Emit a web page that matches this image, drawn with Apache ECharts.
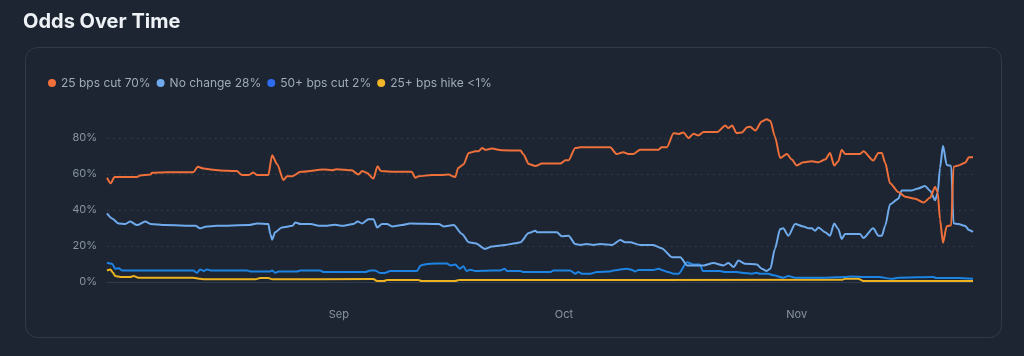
<!DOCTYPE html>
<html>
<head>
<meta charset="utf-8">
<script src="https://cdn.jsdelivr.net/npm/echarts@6/dist/echarts.min.js"></script>
<style>
  html, body { margin: 0; padding: 0; background: #1c2531; }
  #chart { width: 1024px; height: 356px; }
</style>
</head>
<body>
<div id="chart"></div>
<script>
// Time is given in days since 2025-08-01 (UTC); values are probabilities in %.
const startDate = Date.UTC(2025, 7, 1);
const seriesNames = ['25 bps cut 70%', 'No change 28%', '50+ bps cut 2%', '25+ bps hike <1%'];
const yTicks = [0, 20, 40, 60, 80];
const monthLabels = ['Jan','Feb','Mar','Apr','May','Jun','Jul','Aug','Sep','Oct','Nov','Dec'];

const cut25 = [
  [0.1,57.9],[0.6,54.8],[1.1,58.3],[4.1,58.3],[4.5,59.2],[5.9,59.7],[6.1,60.7],[8.1,61.0],[11.6,61.0],
  [12.2,64.0],[13.0,63.0],[13.9,62.5],[15.2,62.0],[17.4,61.6],[18.1,59.4],[19.0,59.4],[19.6,60.8],
  [20.1,59.4],[21.6,59.4],[22.1,70.4],[22.8,65.3],[23.6,56.6],[24.1,58.8],[24.8,58.8],[25.9,61.2],
  [28.96,62.5],[30.07,62.1],[30.7,62.7],[32.7,62.1],[33.6,59.7],[34.1,61.6],[34.7,60.7],[35.6,57.5],
  [36.15,64.3],[36.6,61.6],[38.5,61.2],[40.7,61.2],[41.2,57.9],[41.6,58.8],[43.4,59.4],[44.7,59.4],
  [45.6,59.7],[46.5,58.3],[46.9,63.4],[47.6,65.3],[48.3,71.7],[49.2,72.6],[49.6,72.6],[50.1,74.4],
  [50.5,73.5],[51.4,74.1],[52.7,73.2],[55.2,73.0],[55.6,70.8],[56.3,65.6],[57.2,64.4],[58.05,65.8],
  [60.5,65.8],[61.2,67.6],[61.6,67.6],[62.5,74.4],[63.15,74.8],[67.15,74.8],[68.0,71.1],[68.9,72.1],
  [69.6,71.1],[70.25,71.1],[71.15,73.5],[73.6,73.5],[74.0,74.8],[74.7,74.8],[75.6,82.7],[76.25,82.2],
  [76.9,83.1],[77.6,80.0],[78.25,82.4],[78.9,81.4],[79.6,83.3],[81.4,83.3],[82.5,86.9],[82.9,85.5],
  [83.4,86.9],[84.0,82.7],[84.7,83.1],[85.4,86.0],[85.8,86.2],[86.5,84.2],[87.35,89.2],[88.0,90.4],
  [88.5,89.5],[89.1,80.9],[89.8,68.9],[90.7,71.1],[91.35,68.0],[92.0,64.7],[92.9,66.5],[94.0,67.1],
  [94.9,66.5],[95.8,68.0],[96.45,71.7],[97.0,64.7],[97.55,67.1],[98.0,73.5],[98.45,71.1],[100.45,71.1],
  [100.9,72.6],[102.2,67.5],[102.9,71.7],[103.35,71.7],[103.8,66.2],[104.45,54.8],[105.55,50.0],
  [106.45,47.4],[107.8,46.3],[108.9,44.1],[109.8,46.9],[110.45,52.9],[110.8,49.6],[111.1,34.9],
  [111.5,21.8],[112.0,31.0],[112.6,31.5],[112.9,64.0],[113.55,64.7],[114.45,66.2],[114.95,69.3],[115.5,69.3]
];

const noChange = [
  [0.1,38.1],[0.77,35.3],[1.65,32.5],[2.54,32.2],[3.2,33.6],[4.1,31.6],[5.2,33.6],[5.9,32.2],[7.9,31.6],
  [11.9,31.2],[12.5,29.8],[13.2,30.7],[14.75,31.2],[19.0,31.6],[20.1,32.5],[21.6,32.2],[21.86,26.7],
  [22.1,23.5],[22.5,27.6],[23.4,30.3],[24.8,31.2],[25.2,33.1],[25.9,32.2],[27.2,32.2],[28.5,31.2],
  [29.2,31.2],[30.5,31.8],[31.4,31.2],[32.95,32.2],[33.5,33.6],[34.1,32.5],[34.95,34.9],[35.6,34.9],
  [36.1,30.3],[36.75,32.2],[37.4,32.2],[38.1,30.9],[39.4,31.6],[40.5,32.5],[44.3,32.2],[44.95,30.9],
  [46.3,31.6],[47.4,26.7],[48.3,22.1],[49.2,21.5],[50.5,18.4],[51.4,19.7],[53.2,20.6],[54.5,21.5],
  [55.2,22.1],[56.3,27.2],[57.2,28.5],[57.4,27.6],[60.05,27.6],[60.7,25.4],[61.6,25.7],[62.5,21.1],
  [63.15,20.6],[64.05,21.1],[64.9,20.6],[65.8,21.1],[67.4,20.6],[68.5,23.3],[69.15,22.1],[69.8,22.1],
  [71.15,20.6],[72.9,20.6],[74.0,18.8],[75.4,13.8],[76.5,13.8],[77.4,9.2],[79.6,9.2],[80.9,10.5],
  [82.25,9.2],[82.9,10.5],[83.6,8.3],[84.25,11.9],[85.1,10.2],[86.7,9.7],[87.35,7.4],[88.0,6.1],
  [88.5,7.4],[89.1,18.4],[89.8,29.4],[90.2,29.8],[90.9,25.7],[91.8,32.2],[92.9,30.9],[93.6,29.8],
  [94.0,29.8],[94.45,28.5],[94.9,30.3],[95.8,27.6],[96.45,25.7],[97.0,32.5],[97.55,29.4],[98.0,23.9],
  [98.45,26.7],[100.45,26.7],[100.9,24.4],[102.2,29.8],[102.9,25.7],[103.35,25.7],[103.8,31.3],
  [104.45,43.2],[105.55,46.3],[106.0,50.9],[107.35,50.9],[108.2,52.0],[109.1,53.3],[109.8,50.6],
  [110.45,45.4],[110.8,49.6],[111.1,63.4],[111.5,75.7],[112.0,65.0],[112.6,64.5],[112.9,32.6],
  [113.55,32.2],[114.45,31.2],[114.95,28.9],[115.5,27.9]
];

const cut50 = [
  [0.1,10.7],[0.77,10.1],[1.2,7.4],[1.65,7.7],[2.1,6.4],[11.6,6.4],[12.1,5.1],[12.5,7.0],[13.0,6.1],
  [13.4,7.0],[13.9,6.4],[18.75,6.4],[19.2,5.9],[21.86,5.9],[22.1,6.4],[22.5,5.1],[22.97,5.9],[25.4,5.9],
  [25.9,6.4],[28.5,6.4],[29.0,5.5],[34.5,5.5],[35.2,6.4],[35.8,6.4],[36.5,5.0],[37.1,5.0],[37.85,6.1],
  [41.4,6.1],[41.9,9.2],[42.6,9.9],[43.9,10.3],[45.4,10.3],[45.9,9.2],[46.5,9.7],[47.1,7.4],[47.6,8.8],
  [48.0,6.1],[48.5,6.8],[49.2,6.1],[51.4,6.4],[52.5,6.4],[53.1,7.4],[53.4,6.1],[55.2,6.1],[55.6,5.5],
  [59.15,5.5],[59.6,6.4],[61.8,6.4],[62.5,4.6],[62.9,5.5],[63.4,4.6],[64.5,4.6],[65.4,5.5],[67.15,5.9],
  [67.6,6.4],[69.4,7.4],[70.0,6.8],[70.5,5.9],[70.9,6.6],[72.9,6.6],[73.6,7.4],[74.25,6.4],[74.9,5.5],
  [75.6,4.6],[76.25,4.6],[77.4,11.0],[78.25,9.7],[79.1,9.7],[79.5,6.1],[81.8,6.1],[82.5,5.5],[84.0,5.5],
  [84.9,5.0],[86.0,4.6],[86.7,5.1],[87.1,4.6],[88.2,4.6],[88.9,3.7],[90.2,2.4],[90.9,3.3],[91.8,2.4],
  [95.8,2.4],[98.45,2.8],[99.3,3.1],[101.1,2.8],[102.9,2.8],[104.7,1.8],[105.55,2.4],[110.2,2.8],
  [110.6,2.2],[113.55,2.2],[115.5,1.8]
];

const hike25 = [
  [0.1,6.4],[0.55,7.0],[0.9,5.1],[1.2,3.3],[1.9,2.8],[3.2,2.8],[3.65,3.3],[4.3,2.4],[11.6,2.4],[12.5,1.8],
  [13.0,1.5],[19.9,1.5],[20.5,2.2],[21.6,2.2],[22.1,1.5],[35.6,1.6],[36.1,0.55],[37.0,0.55],[37.4,1.1],
  [41.6,1.1],[42.0,0.55],[46.5,0.55],[47.0,1.1],[98.0,1.2],[98.45,1.8],[100.2,1.8],[100.9,0.55],[115.5,0.55]
];

const toTime = d => startDate + d * 86400000;
const asSeriesData = arr => arr.map(p => [toTime(p[0]), p[1]]);

const lineColors = ['#ef703a', '#6eaaec', '#1e84e4', '#ecb21f'];
const dotColors = ['#ef703a', '#6eaaec', '#2f6cf0', '#f2b628'];
const allData = [cut25, noChange, cut50, hike25];

const chart = echarts.init(document.getElementById('chart'), null, { renderer: 'canvas' });
const option = {
  backgroundColor: '#1c2531',
  animation: false,
  useUTC: true,
  textStyle: { fontFamily: 'Inter, "Noto Sans", sans-serif' },
  title: {
    text: 'Odds Over Time',
    left: 18, top: 7,
    textStyle: { color: '#eef2f6', fontSize: 20, fontWeight: 'bold', fontFamily: 'Inter, sans-serif' }
  },
  graphic: [{
    type: 'rect', silent: true, z: -1,
    shape: { x: 25.5, y: 47.5, width: 976, height: 290, r: 12 },
    style: { fill: '#1c2531', stroke: '#2e3b4c', lineWidth: 1 }
  }],
  legend: {
    left: 43, top: 72,
    icon: 'circle', itemWidth: 8, itemHeight: 8, itemGap: 6,
    selectedMode: false,
    data: seriesNames,
    textStyle: { color: '#9fabb8', fontSize: 12, fontFamily: 'Inter, sans-serif' }
  },
  grid: { left: 107, right: 51, top: 102, bottom: 74, containLabel: false, outerBoundsMode: 'none' },
  xAxis: {
    type: 'time',
    min: 'dataMin', max: 'dataMax',
    offset: 13,
    splitNumber: 4,
    axisLine: { show: true, lineStyle: { color: '#2e3b4c', width: 1 } },
    axisTick: { show: false },
    splitLine: { show: false },
    axisLabel: {
      color: '#8a95a2', fontSize: 11, margin: 14,
      showMinLabel: false, showMaxLabel: false,
      hideOverlap: false,
      formatter: function (v) {
        const d = new Date(v);
        return d.getUTCDate() === 1 && d.getUTCHours() === 0 ? monthLabels[d.getUTCMonth()] : '';
      }
    }
  },
  yAxis: {
    type: 'value',
    min: 0, max: 100, interval: 20,
    axisLine: { show: false },
    axisTick: { show: false },
    axisLabel: {
      color: '#8a95a2', fontSize: 11, margin: 10,
      formatter: v => (yTicks.indexOf(v) >= 0 ? v + '%' : '')
    },
    splitLine: {
      show: true,
      lineStyle: {
        color: ['#36434f', '#36434f', '#36434f', '#36434f', '#36434f', 'rgba(0,0,0,0)'],
        type: [1.5, 4.5], width: 1
      }
    }
  },
  series: allData.map((arr, i) => ({
    name: seriesNames[i],
    type: 'line',
    data: asSeriesData(arr),
    showSymbol: false,
    symbol: 'none',
    smooth: 0.25,
    smoothMonotone: 'x',
    itemStyle: { color: dotColors[i] },
    lineStyle: { color: lineColors[i], width: 2 },
    emphasis: { disabled: true },
    z: 10 - i
  }))
};
chart.setOption(option);
</script>
</body>
</html>
